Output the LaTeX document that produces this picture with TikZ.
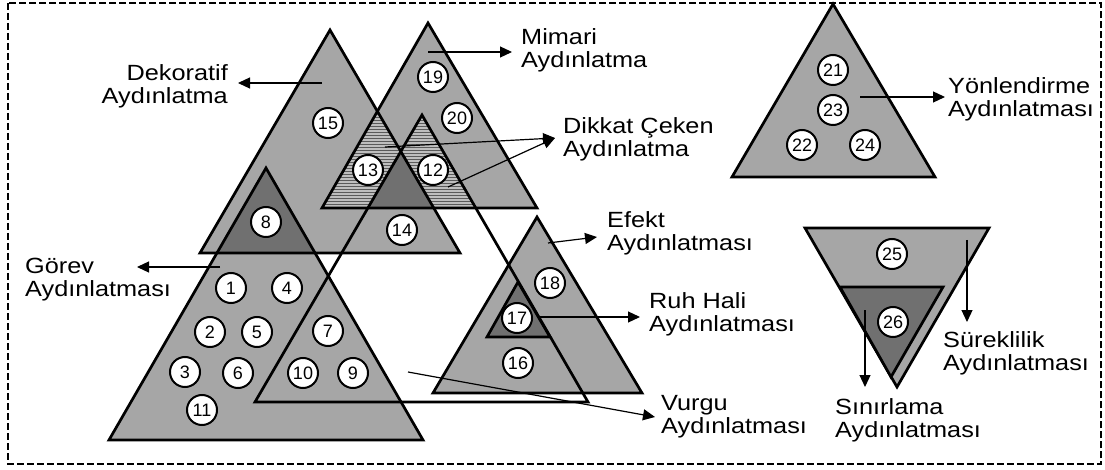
\documentclass[tikz,border=0pt]{standalone}
\usepackage{fontspec}
\setmainfont{Liberation Sans}[FakeStretch=1.15]
\newfontfamily\numfont{Liberation Sans}
\usetikzlibrary{arrows.meta}
\definecolor{fillgray}{RGB}{166,166,166}
\definecolor{darkfill}{RGB}{112,112,112}
\definecolor{hatchbg}{RGB}{190,190,190}
\definecolor{hatchline}{RGB}{90,90,90}
\begin{document}
\begin{tikzpicture}[x=1pt,y=-1pt,
  tri/.style={draw=black, line width=2.7pt, line join=miter},
  num/.style={circle, draw=black, line width=2pt, fill=white, minimum size=30pt, inner sep=0pt, font=\numfont\fontsize{18}{18}\selectfont},
  lbl/.style={align=left, anchor=base west, inner sep=0pt, font=\fontsize{22}{23}\selectfont},
  lblr/.style={align=right, anchor=base east, inner sep=0pt, font=\fontsize{22}{23}\selectfont},
  arr/.style={line width=1.2pt, -{Triangle[length=12pt,width=11pt]}},
  border/.style={draw=black, line width=1.5pt, dash pattern=on 7pt off 3pt},
  hatchrule/.style={draw=hatchline, line width=0.9pt}
]
\useasboundingbox (0,0) rectangle (1105,470);
\draw[border] (8,3) rectangle (1101,464);

% vertices
\coordinate (g1) at (109,440); \coordinate (g2) at (266,168); \coordinate (g3) at (423,440);
\coordinate (d1) at (200,253); \coordinate (d2) at (330,30);  \coordinate (d3) at (460,253);
\coordinate (m1) at (322,208); \coordinate (m2) at (428,23);  \coordinate (m3) at (537,208);
\coordinate (v1) at (255,402); \coordinate (v2) at (422,115); \coordinate (v3) at (588,402);
\coordinate (e1) at (433,393); \coordinate (e2) at (537,217); \coordinate (e3) at (642,393);
\coordinate (r1) at (487,337); \coordinate (r2) at (518,282); \coordinate (r3) at (550,337);
\coordinate (y1) at (732,177); \coordinate (y2) at (833,4);   \coordinate (y3) at (935,177);
\coordinate (s1) at (805,228); \coordinate (s2) at (989,228); \coordinate (s3) at (897,387);
\coordinate (t1) at (840,287); \coordinate (t2) at (943,287); \coordinate (t3) at (891,377);

% base fills
\fill[fillgray] (g1) -- (g2) -- (g3) -- cycle;
\fill[fillgray] (d1) -- (d2) -- (d3) -- cycle;
\fill[fillgray] (m1) -- (m2) -- (m3) -- cycle;
\begin{scope}
  \clip (g1) -- (g2) -- (g3) -- cycle;
  \fill[darkfill] (d1) -- (d2) -- (d3) -- cycle;
\end{scope}
\begin{scope}
  \clip (m1) -- (m2) -- (m3) -- cycle;
  \clip (d1) -- (d2) -- (d3) -- cycle;
  \fill[hatchbg] (300,20) rectangle (560,210);
  \foreach \yy in {24,27,...,210} \draw[hatchrule] (300,\yy) -- (560,\yy);
\end{scope}
\begin{scope}
  \clip (m1) -- (m2) -- (m3) -- cycle;
  \clip (v1) -- (v2) -- (v3) -- cycle;
  \fill[hatchbg] (300,20) rectangle (560,210);
  \foreach \yy in {24,27,...,210} \draw[hatchrule] (300,\yy) -- (560,\yy);
\end{scope}
\begin{scope}
  \clip (m1) -- (m2) -- (m3) -- cycle;
  \clip (d1) -- (d2) -- (d3) -- cycle;
  \fill[darkfill] (v1) -- (v2) -- (v3) -- cycle;
\end{scope}

% outlines
\draw[tri] (g1) -- (g2) -- (g3) -- cycle;
\draw[tri] (d1) -- (d2) -- (d3) -- cycle;
\draw[tri] (m1) -- (m2) -- (m3) -- cycle;
\draw[tri, fill=fillgray] (e1) -- (e2) -- (e3) -- cycle;
\draw[tri, fill=darkfill] (r1) -- (r2) -- (r3) -- cycle;
\draw[tri] (v1) -- (v2) -- (v3) -- cycle;
\draw[tri, fill=fillgray] (y1) -- (y2) -- (y3) -- cycle;
\draw[tri, fill=fillgray] (s1) -- (s2) -- (s3) -- cycle;
\draw[tri, fill=darkfill] (t1) -- (t2) -- (t3) -- cycle;

% numbered circles
\node[num] (c1)  at (231,288) {1};
\node[num] (c2)  at (210,332) {2};
\node[num] (c3)  at (185,372) {3};
\node[num] (c4)  at (287,288) {4};
\node[num] (c5)  at (257,332) {5};
\node[num] (c6)  at (238,373) {6};
\node[num] (c7)  at (328,331) {7};
\node[num] (c8)  at (266,222) {8};
\node[num] (c9)  at (353,373) {9};
\node[num] (c10) at (303,373) {10};
\node[num] (c11) at (202,410) {11};
\node[num] (c12) at (433,170) {12};
\node[num] (c13) at (368,170) {13};
\node[num] (c14) at (402,230) {14};
\node[num] (c15) at (328,123) {15};
\node[num] (c16) at (518,363) {16};
\node[num] (c17) at (517,318) {17};
\node[num] (c18) at (550,283) {18};
\node[num] (c19) at (433,77)  {19};
\node[num] (c20) at (457,118) {20};
\node[num] (c21) at (833,70)  {21};
\node[num] (c22) at (802,145) {22};
\node[num] (c23) at (833,110) {23};
\node[num] (c24) at (865,145) {24};
\node[num] (c25) at (892,254) {25};
\node[num] (c26) at (893,322) {26};

% labels (anchored at the baseline of the last line)
\node[lblr] (ldek) at (228,104) {Dekoratif\\Aydınlatma};
\node[lbl]  (lgor) at (25,296)  {Görev\\Aydınlatması};
\node[lbl]  (lmim) at (521,68)  {Mimari\\Aydınlatma};
\node[lbl]  (ldik) at (563,157) {Dikkat Çeken\\Aydınlatma};
\node[lbl]  (lefe) at (607,251) {Efekt\\Aydınlatması};
\node[lbl]  (lruh) at (649,331) {Ruh Hali\\Aydınlatması};
\node[lbl]  (lvur) at (661,433) {Vurgu\\Aydınlatması};
\node[lbl]  (lyon) at (948,117) {Yönlendirme\\Aydınlatması};
\node[lbl]  (lsur) at (943,370) {Süreklilik\\Aydınlatması};
\node[lbl]  (lsin) at (835,437) {Sınırlama\\Aydınlatması};

% arrow end points
\coordinate (adek0) at (322,83);  \coordinate (adek1) at (238,83);
\coordinate (agor0) at (220,267); \coordinate (agor1) at (137,267);
\coordinate (amim0) at (428,52);  \coordinate (amim1) at (512,52);
\coordinate (adik0) at (385,147); \coordinate (adik2) at (448,187); \coordinate (adik1) at (555,138);
\coordinate (aefe0) at (548,243); \coordinate (aefe1) at (597,237);
\coordinate (aruh0) at (537,317); \coordinate (aruh1) at (640,317);
\coordinate (avur0) at (408,372); \coordinate (avur1) at (655,417);
\coordinate (ayon0) at (860,97);  \coordinate (ayon1) at (945,97);
\coordinate (asur0) at (967,240); \coordinate (asur1) at (967,322);
\coordinate (asin0) at (865,310); \coordinate (asin1) at (865,387);

\draw[arr] (adek0) -- (adek1);
\draw[arr] (agor0) -- (agor1);
\draw[arr] (amim0) -- (amim1);
\draw[arr] (adik0) -- (adik1);
\draw[arr] (adik2) -- (adik1);
\draw[arr] (aefe0) -- (aefe1);
\draw[arr] (aruh0) -- (aruh1);
\draw[arr] (avur0) -- (avur1);
\draw[arr] (ayon0) -- (ayon1);
\draw[arr] (asur0) -- (asur1);
\draw[arr] (asin0) -- (asin1);
\end{tikzpicture}
\end{document}
